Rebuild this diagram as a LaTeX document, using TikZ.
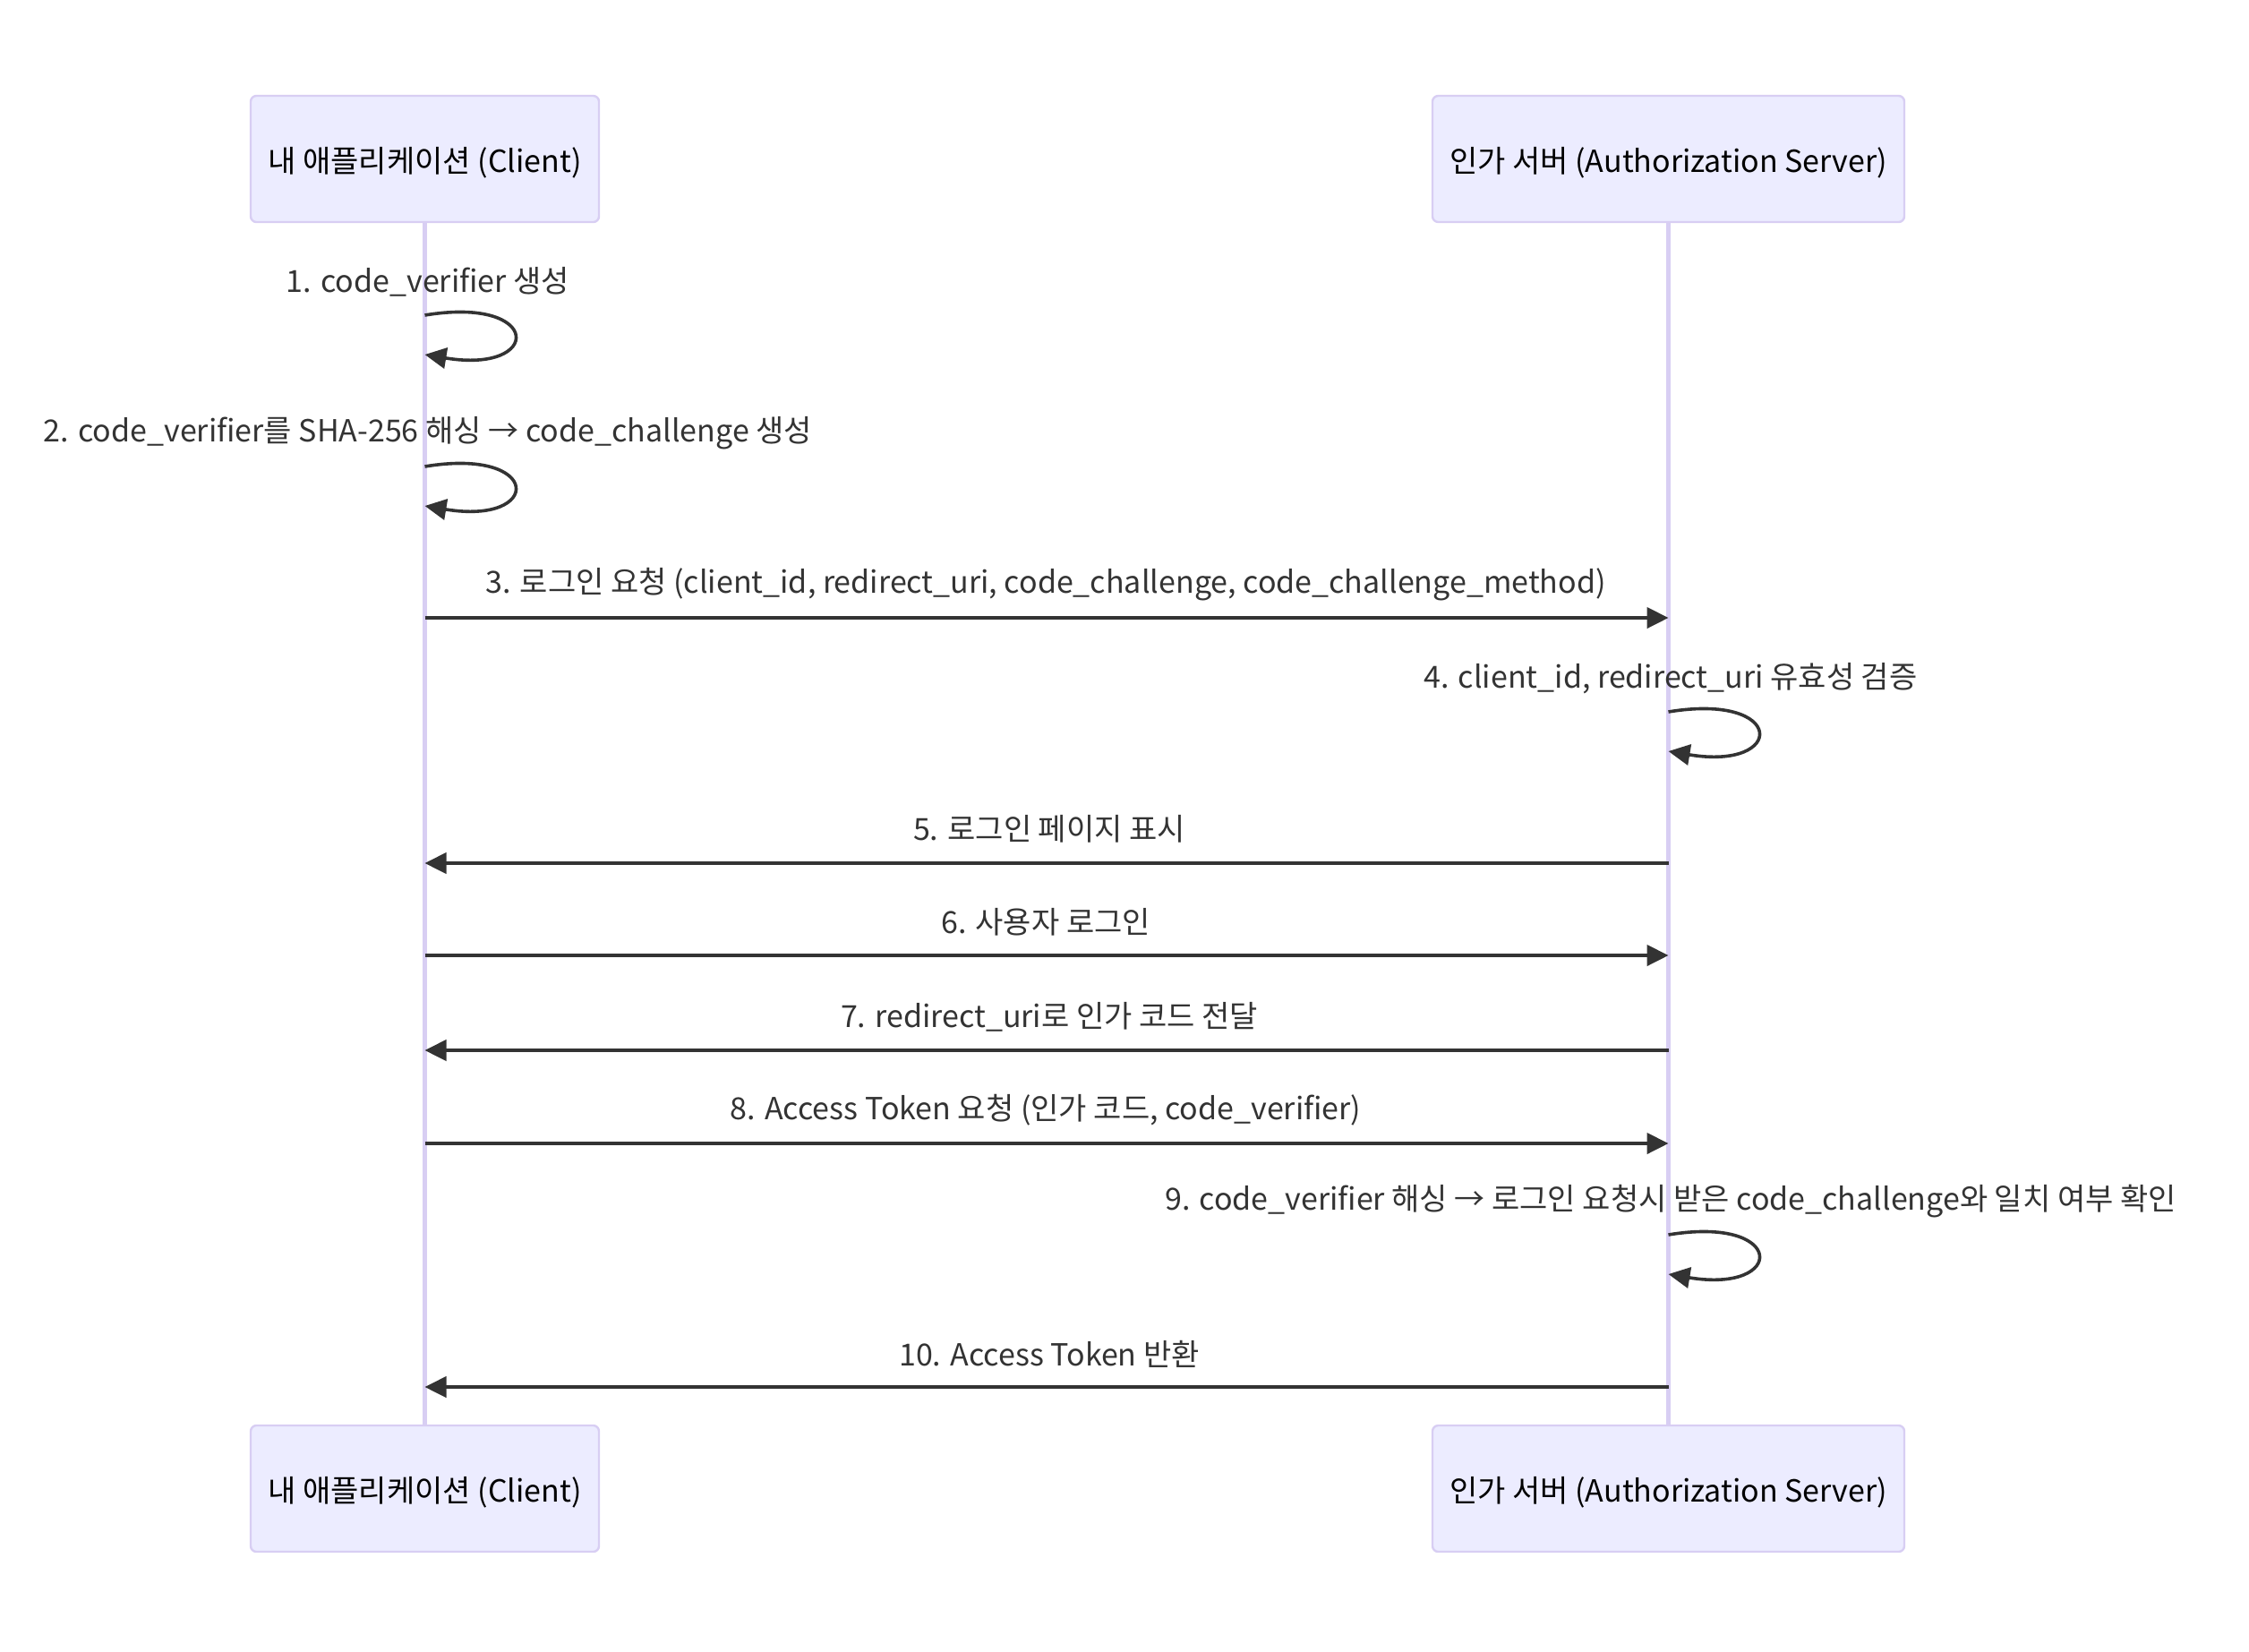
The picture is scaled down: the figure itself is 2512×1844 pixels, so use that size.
\documentclass[tikz,border=0pt]{standalone}
\usepackage{fontspec}
\setmainfont{Noto Sans CJK KR}
\usetikzlibrary{arrows.meta,calc}
\definecolor{actorfill}{HTML}{ECECFF}
\definecolor{actorline}{HTML}{D8CEF3}
\definecolor{msgcol}{HTML}{333333}
\newcommand{\lbl}{\fontsize{8.5pt}{10pt}\selectfont}
\begin{document}
\begin{tikzpicture}[x=0.25pt,y=-0.25pt,
  actor/.style={draw=actorline, fill=actorfill, line width=0.6pt,
    rounded corners=1.6pt, minimum height=35.25pt, inner sep=0pt,
    font=\lbl, text=black},
  lifeline/.style={draw=actorline, line width=1.2pt},
  msg/.style={draw=msgcol, line width=0.9pt,
    -{Triangle[length=6pt,width=5.8pt]}},
  msgtext/.style={font=\lbl, text=msgcol, inner sep=0pt}]
\useasboundingbox (0,0) rectangle (2512,1844);

% participants, top and bottom
\node[actor, minimum width=97.25pt] (ct) at (474.5,177.5) {};
\node[actor, minimum width=131.75pt] (st) at (1863.5,177.5) {};
\node[actor, minimum width=97.25pt] (cb) at (474.5,1662.5) {};
\node[actor, minimum width=131.75pt] (sb) at (1863.5,1662.5) {};
\foreach \a in {ct,cb}
  \node[font=\lbl, inner sep=0pt] (\a-label) at ($(\a.center)+(0,4)$) {내 애플리케이션 (Client)};
\foreach \a in {st,sb}
  \node[font=\lbl, inner sep=0pt] (\a-label) at ($(\a.center)+(0,4)$) {인가 서버 (Authorization Server)};

% lifelines
\draw[lifeline] (ct.south) -- (cb.north);
\draw[lifeline] (st.south) -- (sb.north);

% anchor points of the messages on the lifelines
\foreach \n/\y in {1/352,2/521,4/795,9/1379}{
  \coordinate (cl\n) at (474.5,\y);
  \coordinate (sl\n) at (1863.5,\y);
}
\foreach \n/\y in {3/690,5/964,6/1067,7/1173,8/1277,10/1549}{
  \coordinate (c\n) at (474.5,\y);
  \coordinate (s\n) at (1863.5,\y);
}

% self messages
\draw[msg] (cl1) .. controls ($(cl1)+(132,-22)$) and ($(cl1)+(132,66)$) .. ($(cl1)+(0,44)$);
\node[msgtext] (t1) at (478,315) {1. code\_verifier 생성};
\draw[msg] (cl2) .. controls ($(cl2)+(132,-22)$) and ($(cl2)+(132,66)$) .. ($(cl2)+(0,44)$);
\node[msgtext] (t2) at (478,484) {2. code\_verifier를 SHA-256 해싱 → code\_challenge 생성};

\draw[msg] (c3) -- (s3);
\node[msgtext] (t3) at (1168,653) {3. 로그인 요청 (client\_id, redirect\_uri, code\_challenge, code\_challenge\_method)};

\draw[msg] (sl4) .. controls ($(sl4)+(132,-22)$) and ($(sl4)+(132,66)$) .. ($(sl4)+(0,44)$);
\node[msgtext] (t4) at (1866,758) {4. client\_id, redirect\_uri 유효성 검증};

\draw[msg] (s5) -- (c5);
\node[msgtext] (t5) at (1172,926) {5. 로그인 페이지 표시};
\draw[msg] (c6) -- (s6);
\node[msgtext] (t6) at (1168,1030) {6. 사용자 로그인};
\draw[msg] (s7) -- (c7);
\node[msgtext] (t7) at (1172,1136) {7. redirect\_uri로 인가 코드 전달};
\draw[msg] (c8) -- (s8);
\node[msgtext] (t8) at (1168,1240) {8. Access Token 요청 (인가 코드, code\_verifier)};

\draw[msg] (sl9) .. controls ($(sl9)+(132,-22)$) and ($(sl9)+(132,66)$) .. ($(sl9)+(0,44)$);
\node[msgtext] (t9) at (1866,1342) {9. code\_verifier 해싱 → 로그인 요청시 받은 code\_challenge와 일치 여부 확인};

\draw[msg] (s10) -- (c10);
\node[msgtext] (t10) at (1172,1512) {10. Access Token 반환};
\end{tikzpicture}
\end{document}
